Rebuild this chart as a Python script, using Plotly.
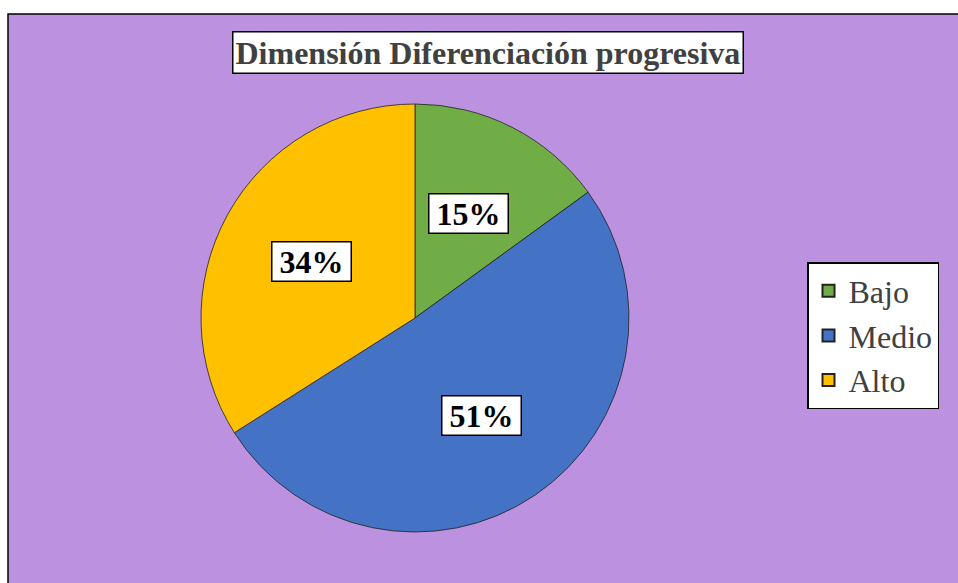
import math
import plotly.graph_objects as go

# ---- data ----
categories = ["Bajo", "Medio", "Alto"]
percentages = [15, 51, 34]
colors = ["#70AD47", "#4472C4", "#FFC000"]
title_text = "Dimensión Diferenciación progresiva"

W, H = 958, 583
PURPLE = "#BC91DF"
SERIF = "Liberation Serif, Times New Roman, serif"

# pie placement (pixels)
cx, cy, r = 415, 318, 214
dom_x = [(cx - r) / W, (cx + r) / W]
dom_y = [(H - cy - r) / H, (H - cy + r) / H]

fig = go.Figure()
fig.add_trace(go.Pie(
    labels=categories,
    values=percentages,
    sort=False,
    direction="clockwise",
    rotation=0,
    marker=dict(colors=colors, line=dict(color="#222222", width=0.8)),
    textinfo="none",
    hoverinfo="label+percent",
    domain=dict(x=dom_x, y=dom_y),
))

# percentage labels in boxes, positioned at slice mid-angles
total = sum(percentages)
cum = 0
annotations = []
for cat, v in zip(categories, percentages):
    mid = (cum + v / 2) / total * 2 * math.pi
    cum += v
    k = 0.55
    px = cx + r * k * math.sin(mid)
    py = cy - r * k * math.cos(mid)
    annotations.append(dict(
        x=px / W, y=1 - py / H, xref="paper", yref="paper",
        xanchor="center", yanchor="middle",
        text=f"<b>{v}%</b>", showarrow=False,
        font=dict(family=SERIF, size=32, color="#000000"),
        width=74, height=34,
        bgcolor="#FFFFFF", bordercolor="#000000", borderwidth=1.5, borderpad=2,
    ))

# title in box
annotations.append(dict(
    x=488 / W, y=1 - 52 / H, xref="paper", yref="paper",
    xanchor="center", yanchor="middle",
    text=f"<b>{title_text}</b>", showarrow=False,
    font=dict(family=SERIF, size=32, color="#404040"),
    bgcolor="#FFFFFF", bordercolor="#000000", borderwidth=1.5, borderpad=2,
))

fig.update_layout(
    width=W, height=H,
    margin=dict(l=0, r=0, t=0, b=0),
    paper_bgcolor="#FFFFFF",
    plot_bgcolor=PURPLE,
    showlegend=True,
    legend=dict(
        x=807 / W, y=1 - 262 / H, xanchor="left", yanchor="top",
        bgcolor="#FFFFFF", bordercolor="#000000", borderwidth=1.5,
        font=dict(family=SERIF, size=32, color="#404040"),
        itemsizing="constant",
    ),
    annotations=annotations,
    shapes=[dict(
        type="rect", xref="paper", yref="paper",
        x0=8 / W, x1=1.02, y0=-0.02, y1=1 - 14 / H,
        fillcolor=PURPLE, line=dict(color="#000000", width=1.5), layer="below",
    )],
)

fig.write_html(
    "out.html",
    config={"displayModeBar": False},
    post_script="document.body.style.margin='0';document.body.style.overflow='hidden';",
)
